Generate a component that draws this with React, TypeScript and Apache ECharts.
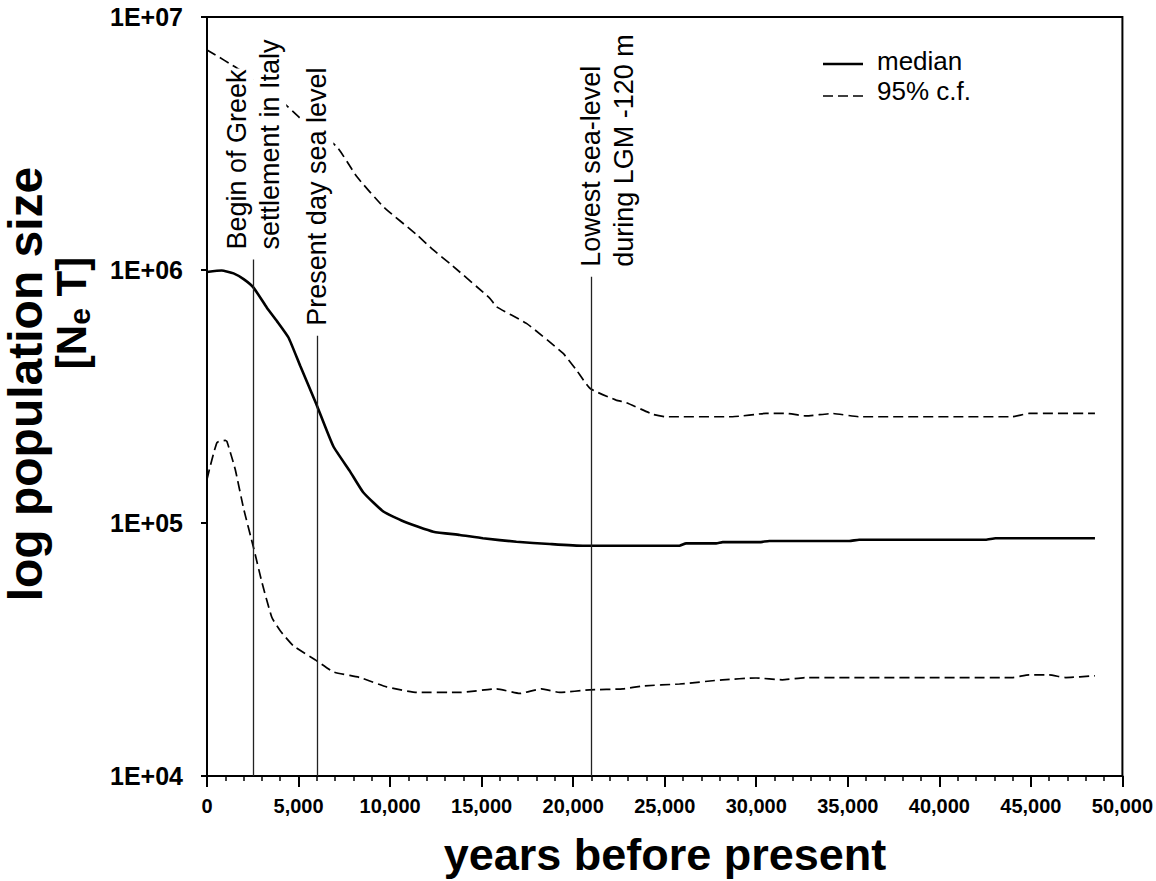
import React, { useEffect, useRef } from "react";
import * as echarts from "echarts";

// ---- data ----
const medianYears = [0, 800, 1450, 2000, 2540, 3270, 3815, 4450, 5090, 5940, 6900, 7810, 8540, 9630, 10720, 12360, 13810, 15070, 16900, 18720, 20530, 21450, 25800, 26170, 27810, 28170, 30170, 30710, 35080, 35620, 42530, 43070, 48500];
const medianValues = [982000, 995000, 970000, 920000, 852000, 710000, 629000, 541000, 418000, 299000, 201000, 160000, 132000, 111000, 101600, 92400, 89700, 87000, 84300, 82600, 81300, 81300, 81300, 83100, 83100, 84000, 84000, 84900, 84900, 85900, 85900, 87000, 87000];

const upperYears = [0, 1815, 2700, 3820, 5090, 7090, 8180, 9630, 11450, 12360, 13270, 15450, 15810, 17450, 19440, 20170, 20930, 22350, 22900, 24350, 25080, 28700, 30530, 31620, 32720, 34170, 35620, 43980, 44900, 48500];
const upperValues = [7410000, 6170000, 5500000, 4840000, 3980000, 3070000, 2340000, 1780000, 1380000, 1200000, 1060000, 773000, 716000, 615000, 469000, 403000, 340000, 306000, 299000, 269000, 263000, 263000, 271000, 271000, 265000, 271000, 263000, 263000, 271000, 271000];

const lowerYears = [0, 545, 1000, 1090, 1540, 2000, 2540, 3000, 3540, 4000, 4720, 5940, 6900, 8360, 9810, 11450, 13810, 15810, 17080, 18270, 19260, 20900, 22720, 23810, 25810, 28160, 29990, 31420, 32720, 43980, 44900, 45990, 46900, 48500];
const lowerValues = [149000, 208000, 212000, 210000, 163000, 114000, 80000, 58300, 42400, 37500, 32700, 28700, 25800, 24500, 22500, 21400, 21400, 22100, 21200, 22100, 21400, 21900, 22100, 22700, 23100, 24000, 24400, 24000, 24500, 24500, 25100, 25100, 24500, 24900];

const eventYears = [2500, 6000, 21000];
const eventTops = [1100000, 550000, 940000];
const eventLabels = [
  ["Begin of Greek", "settlement in Italy"],
  ["Present day sea level"],
  ["Lowest sea-level", "during LGM -120 m"],
];
const legendLabels = ["median", "95% c.f."];
const xAxisTitle = "years before present";
const yAxisTitle = "log population size";

const FONT = "'Liberation Sans', Arial, Helvetica, sans-serif";

const pairs = (xs: number[], ys: number[]) => xs.map((x, i) => [x, ys[i]]);

export default function App() {
  const ref = useRef<HTMLDivElement>(null);

  useEffect(() => {
    if (!ref.current) return;
    const chart = echarts.init(ref.current, undefined, { renderer: "svg" });

    const dashed = { color: "#000", width: 1.7, type: [10, 5] as any };

    chart.setOption({
      animation: false,
      backgroundColor: "#fff",
      grid: {
        left: 207,
        right: 32,
        top: 17,
        bottom: 105,
        show: true,
        borderColor: "#000",
        borderWidth: 2,
        backgroundColor: "transparent",
      },
      xAxis: {
        type: "value",
        min: 0,
        max: 50000,
        interval: 5000,
        axisLine: { show: true, lineStyle: { color: "#000", width: 2 } },
        axisTick: { show: true, inside: false, length: 11, lineStyle: { color: "#000", width: 2 } },
        minorTick: { show: true, splitNumber: 5, length: 5, lineStyle: { color: "#000", width: 1.5 } },
        splitLine: { show: false },
        minorSplitLine: { show: false },
        axisLabel: {
          color: "#000",
          fontFamily: FONT,
          fontWeight: "bold",
          fontSize: 20,
          margin: 20,
          hideOverlap: false,
          showMaxLabel: true,
          formatter: (v: number) => v.toLocaleString("en-US"),
        },
      },
      yAxis: {
        type: "log",
        logBase: 10,
        min: 10000,
        max: 10000000,
        axisLine: { show: true, lineStyle: { color: "#000", width: 2 } },
        axisTick: { show: true, inside: false, length: 6, lineStyle: { color: "#000", width: 2 } },
        splitLine: { show: false },
        minorTick: { show: false },
        axisLabel: {
          color: "#000",
          fontFamily: FONT,
          fontWeight: "bold",
          fontSize: 25,
          margin: 24,
          formatter: (v: number) => "1E+" + String(Math.round(Math.log10(v))).padStart(2, "0"),
        },
      },
      series: [
        {
          name: "median",
          type: "line",
          data: pairs(medianYears, medianValues),
          symbol: "none",
          smooth: 0.15,
          lineStyle: { color: "#000", width: 2.6 },
          z: 3,
          markLine: {
            silent: true,
            symbol: "none",
            label: { show: false },
            lineStyle: { color: "#222", width: 1.3, type: "solid" },
            data: eventYears.map((x, i) => [
              { coord: [x, 10000] },
              { coord: [x, eventTops[i]] },
            ]),
          },
        },
        {
          name: "95% c.f. upper",
          type: "line",
          data: pairs(upperYears, upperValues),
          symbol: "none",
          smooth: 0.15,
          lineStyle: dashed,
          z: 2,
        },
        {
          name: "95% c.f. lower",
          type: "line",
          data: pairs(lowerYears, lowerValues),
          symbol: "none",
          smooth: 0.15,
          lineStyle: dashed,
          z: 2,
        },
      ],
    });

    // annotations positioned through the chart's own scales
    const lineGap = 33;
    const firstLineShift = [-16, 0, 0];
    const annotationEls: any[] = [];
    eventYears.forEach((yr, i) => {
      const p = chart.convertToPixel({ gridIndex: 0 }, [yr, eventTops[i]]) as number[];
      eventLabels[i].forEach((txt, j) => {
        annotationEls.push({
          type: "text",
          x: p[0] + firstLineShift[i] + j * lineGap,
          y: p[1] - 9,
          rotation: Math.PI / 2,
          z: 100,
          style: {
            text: txt,
            font: `27px ${FONT}`,
            fill: "#000",
            textAlign: "left",
            textVerticalAlign: "middle",
            backgroundColor: "#fff",
            padding: [3, 1],
          },
        });
      });
    });

    chart.setOption({
      graphic: [
        ...annotationEls,
        // legend
        { type: "line", z: 100, shape: { x1: 823, y1: 64, x2: 863, y2: 64 }, style: { stroke: "#000", lineWidth: 2.6 } },
        { type: "line", z: 100, shape: { x1: 823, y1: 96, x2: 863, y2: 96 }, style: { stroke: "#000", lineWidth: 1.7, lineDash: [10, 5] } },
        { type: "text", z: 100, x: 877, y: 61, style: { text: legendLabels[0], font: `26px ${FONT}`, fill: "#000", textAlign: "left", textVerticalAlign: "middle" } },
        { type: "text", z: 100, x: 877, y: 91, style: { text: legendLabels[1], font: `26px ${FONT}`, fill: "#000", textAlign: "left", textVerticalAlign: "middle" } },
        // axis titles
        { type: "text", z: 100, x: 665, y: 854, style: { text: xAxisTitle, font: `bold 45px ${FONT}`, fill: "#000", textAlign: "center", textVerticalAlign: "middle" } },
        { type: "text", z: 100, x: 25, y: 384, rotation: Math.PI / 2, style: { text: yAxisTitle, font: `bold 48px ${FONT}`, fill: "#000", textAlign: "center", textVerticalAlign: "middle" } },
        {
          type: "text",
          z: 100,
          x: 71,
          y: 313,
          rotation: Math.PI / 2,
          style: {
            text: "{b|[N}{s|e}{b| T]}",
            textAlign: "center",
            textVerticalAlign: "middle",
            rich: {
              b: { font: `bold 42px ${FONT}`, fill: "#000", lineHeight: 46, verticalAlign: "middle" },
              s: { font: `bold 30px ${FONT}`, fill: "#000", lineHeight: 30, verticalAlign: "bottom" },
            },
          },
        },
      ],
    });

    return () => chart.dispose();
  }, []);

  return (
    <div
      ref={ref}
      style={{ position: "fixed", left: 0, top: 0, width: 1156, height: 881, background: "#fff" }}
    />
  );
}
